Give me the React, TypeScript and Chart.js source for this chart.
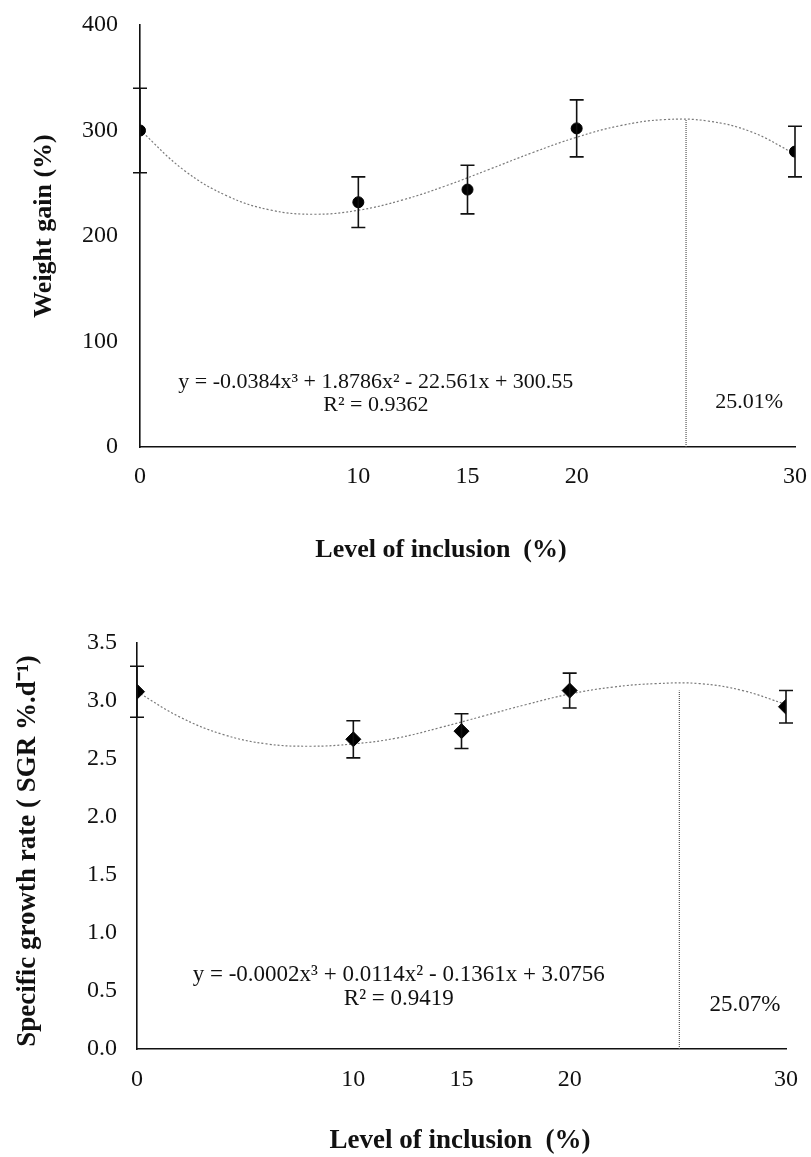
import React, { useEffect, useRef } from 'react';
import { Chart, registerables } from 'chart.js';

Chart.register(...registerables);

// ---------- data ----------
const inclusionLevels = [0, 10, 15, 20, 30];
const xTickValues = [0, 10, 15, 20, 30];

const weightGainMeans = [300, 232, 244, 302, 280];
const weightGainErrors = [40, 24, 23, 27, 24];
const weightGainFitX = [0, 2, 4, 6, 8, 10, 12, 14, 16, 18, 20, 22, 24, 26, 28, 30];
const weightGainFitY = [300.6, 262.6, 237.9, 224.5, 220.6, 224.4, 234.0, 247.5, 263.2, 279.2, 293.6, 304.6, 310.3, 309.0, 298.7, 277.7];
const weightGainOptimum = [25.01, 310.6];
const weightGainTicks = [0, 100, 200, 300, 400];

const sgrMeans = [3.08, 2.67, 2.74, 3.09, 2.95];
const sgrErrors = [0.22, 0.16, 0.15, 0.15, 0.14];
const sgrFitX = [0, 2, 4, 6, 8, 10, 12, 14, 16, 18, 20, 22, 24, 26, 28, 30];
const sgrFitY = [3.08, 2.86, 2.71, 2.63, 2.61, 2.63, 2.68, 2.77, 2.87, 2.97, 3.06, 3.12, 3.15, 3.15, 3.09, 2.97];
const sgrOptimum = [25.07, 3.09];
const sgrTicks = [0, 0.5, 1.0, 1.5, 2.0, 2.5, 3.0, 3.5];

const weightGainText = ['y = -0.0384x³ + 1.8786x² - 22.561x + 300.55', 'R² = 0.9362', '25.01%'];
const sgrText = ['y = -0.0002x³ + 0.0114x² - 0.1361x + 3.0756', 'R² = 0.9419', '25.07%'];

const xTitle = 'Level of inclusion  (%)';
const weightGainTitle = 'Weight gain (%)';
const sgrTitle = 'Specific growth rate ( SGR %.d⁻¹)';

const SERIF = "'Liberation Serif', 'Times New Roman', serif";

type Panel = {
  width: number;
  height: number;
  top: number;
  padRight: number;
  padTop: number;
  xAxisHeight: number;
  yAxisWidth: number;
  yMin: number;
  yMax: number;
  yTicks: number[];
  yDecimals: number;
  yTitle: string;
  yTitlePos: number[];
  yTitleSize: number;
  xTitlePos: number[];
  xTitleSize: number;
  xTickPad: number;
  yTickPad: number;
  means: number[];
  errors: number[];
  fitX: number[];
  fitY: number[];
  optimum: number[];
  texts: string[];
  textPos: number[][];
  textSize: number;
  pointStyle: string;
  pointRadius: number;
  capHalf: number;
};

const panels: Panel[] = [
  {
    width: 811, height: 580, top: 0,
    padRight: 16, padTop: 25, xAxisHeight: 133, yAxisWidth: 140,
    yMin: 0, yMax: 400, yTicks: weightGainTicks, yDecimals: 0,
    yTitle: weightGainTitle, yTitlePos: [44, 226], yTitleSize: 26,
    xTitlePos: [441, 550], xTitleSize: 26,
    xTickPad: 15, yTickPad: 22,
    means: weightGainMeans, errors: weightGainErrors,
    fitX: weightGainFitX, fitY: weightGainFitY, optimum: weightGainOptimum,
    texts: weightGainText,
    textPos: [[10.8, 61], [10.8, 40], [27.9, 42.6]],
    textSize: 22,
    pointStyle: 'circle', pointRadius: 5.5, capHalf: 7,
  },
  {
    width: 811, height: 567, top: 590,
    padRight: 25, padTop: 53, xAxisHeight: 108, yAxisWidth: 137,
    yMin: 0, yMax: 3.5, yTicks: sgrTicks, yDecimals: 1,
    yTitle: sgrTitle, yTitlePos: [28, 261], yTitleSize: 27,
    xTitlePos: [460, 551], xTitleSize: 27,
    xTickPad: 16, yTickPad: 20,
    means: sgrMeans, errors: sgrErrors,
    fitX: sgrFitX, fitY: sgrFitY, optimum: sgrOptimum,
    texts: sgrText,
    textPos: [[12.1, 0.64], [12.1, 0.43], [28.1, 0.38]],
    textSize: 23,
    pointStyle: 'rectRot', pointRadius: 7.5, capHalf: 7,
  },
];

function PanelChart({ p }: { p: Panel }) {
  const ref = useRef<HTMLCanvasElement | null>(null);
  useEffect(() => {
    if (!ref.current) return;
    const errorBars = {
      id: 'errorBars',
      afterDatasetsDraw(chart: any) {
        const { ctx, scales } = chart;
        const xs = scales.x;
        const ys = scales.y;
        ctx.save();
        ctx.strokeStyle = '#111';
        ctx.lineWidth = 1.6;
        inclusionLevels.forEach((lv, i) => {
          const px = xs.getPixelForValue(lv);
          const top = ys.getPixelForValue(p.means[i] + p.errors[i]);
          const bot = ys.getPixelForValue(p.means[i] - p.errors[i]);
          ctx.beginPath();
          ctx.moveTo(px, top);
          ctx.lineTo(px, bot);
          ctx.moveTo(px - p.capHalf, top);
          ctx.lineTo(px + p.capHalf, top);
          ctx.moveTo(px - p.capHalf, bot);
          ctx.lineTo(px + p.capHalf, bot);
          ctx.stroke();
        });
        ctx.restore();
      },
    };
    const labels = {
      id: 'labels',
      afterDraw(chart: any) {
        const { ctx, scales } = chart;
        ctx.save();
        ctx.fillStyle = '#111';
        ctx.font = `${p.textSize}px ${SERIF}`;
        ctx.textAlign = 'center';
        ctx.textBaseline = 'middle';
        p.texts.forEach((t, i) => {
          const [vx, vy] = p.textPos[i];
          ctx.fillText(t, scales.x.getPixelForValue(vx), scales.y.getPixelForValue(vy));
        });
        // axis titles
        ctx.font = `bold ${p.xTitleSize}px ${SERIF}`;
        ctx.fillText(xTitle, p.xTitlePos[0], p.xTitlePos[1]);
        ctx.translate(p.yTitlePos[0], p.yTitlePos[1]);
        ctx.rotate(-Math.PI / 2);
        ctx.font = `bold ${p.yTitleSize}px ${SERIF}`;
        ctx.fillText(p.yTitle, 0, 0);
        ctx.restore();
      },
    };
    const chart = new Chart(ref.current, {
      type: 'scatter',
      data: {
        datasets: [
          {
            label: 'fit',
            data: p.fitX.map((x, i) => ({ x, y: p.fitY[i] })),
            showLine: true,
            borderColor: '#7a7a7a',
            borderWidth: 1.2,
            borderDash: [2, 2],
            pointRadius: 0,
            tension: 0.4,
            order: 3,
          },
          {
            label: 'optimum',
            data: [{ x: p.optimum[0], y: 0 }, { x: p.optimum[0], y: p.optimum[1] }],
            showLine: true,
            borderColor: '#555',
            borderWidth: 1.2,
            borderDash: [1, 1],
            pointRadius: 0,
            order: 2,
          },
          {
            label: 'means',
            data: inclusionLevels.map((x, i) => ({ x, y: p.means[i] })),
            showLine: false,
            pointStyle: p.pointStyle as any,
            pointRadius: p.pointRadius,
            backgroundColor: '#000',
            borderColor: '#000',
            borderWidth: 1,
            order: 1,
          },
        ],
      },
      options: {
        animation: false,
        responsive: false,
        devicePixelRatio: 1,
        layout: {
          autoPadding: false,
          padding: { left: 0, right: p.padRight, top: p.padTop, bottom: 0 },
        },
        plugins: {
          legend: { display: false },
          tooltip: { enabled: false },
        },
        scales: {
          x: {
            type: 'linear',
            min: 0,
            max: 30,
            afterBuildTicks: (s: any) => {
              s.ticks = xTickValues.map((v) => ({ value: v }));
            },
            afterFit: (s: any) => {
              s.height = p.xAxisHeight;
              s.paddingLeft = 0;
              s.paddingRight = 0;
              s.paddingTop = 0;
              s.paddingBottom = 0;
            },
            grid: { display: false, drawTicks: false },
            border: { display: true, color: '#111', width: 1.6 },
            ticks: {
              padding: p.xTickPad,
              color: '#111',
              font: { family: SERIF, size: 24 },
              maxRotation: 0,
              autoSkip: false,
              callback: (v: any) => String(v),
            },
            title: { display: false },
          },
          y: {
            type: 'linear',
            min: p.yMin,
            max: p.yMax,
            afterBuildTicks: (s: any) => {
              s.ticks = p.yTicks.map((v) => ({ value: v }));
            },
            afterFit: (s: any) => {
              s.width = p.yAxisWidth;
              s.paddingLeft = 0;
              s.paddingRight = 0;
              s.paddingTop = 0;
              s.paddingBottom = 0;
            },
            grid: { display: false, drawTicks: false },
            border: { display: true, color: '#111', width: 1.6 },
            ticks: {
              padding: p.yTickPad,
              color: '#111',
              font: { family: SERIF, size: 24 },
              callback: (v: any) => Number(v).toFixed(p.yDecimals),
            },
            title: { display: false },
          },
        },
      },
      plugins: [errorBars, labels],
    } as any);
    return () => chart.destroy();
  }, [p]);
  return (
    <canvas
      ref={ref}
      width={p.width}
      height={p.height}
      style={{ position: 'absolute', left: 0, top: p.top, width: p.width, height: p.height }}
    />
  );
}

export default function App() {
  return (
    <div style={{ position: 'absolute', left: 0, top: 0, width: 811, height: 1157, background: '#fff' }}>
      {panels.map((p, i) => (
        <PanelChart key={i} p={p} />
      ))}
    </div>
  );
}
